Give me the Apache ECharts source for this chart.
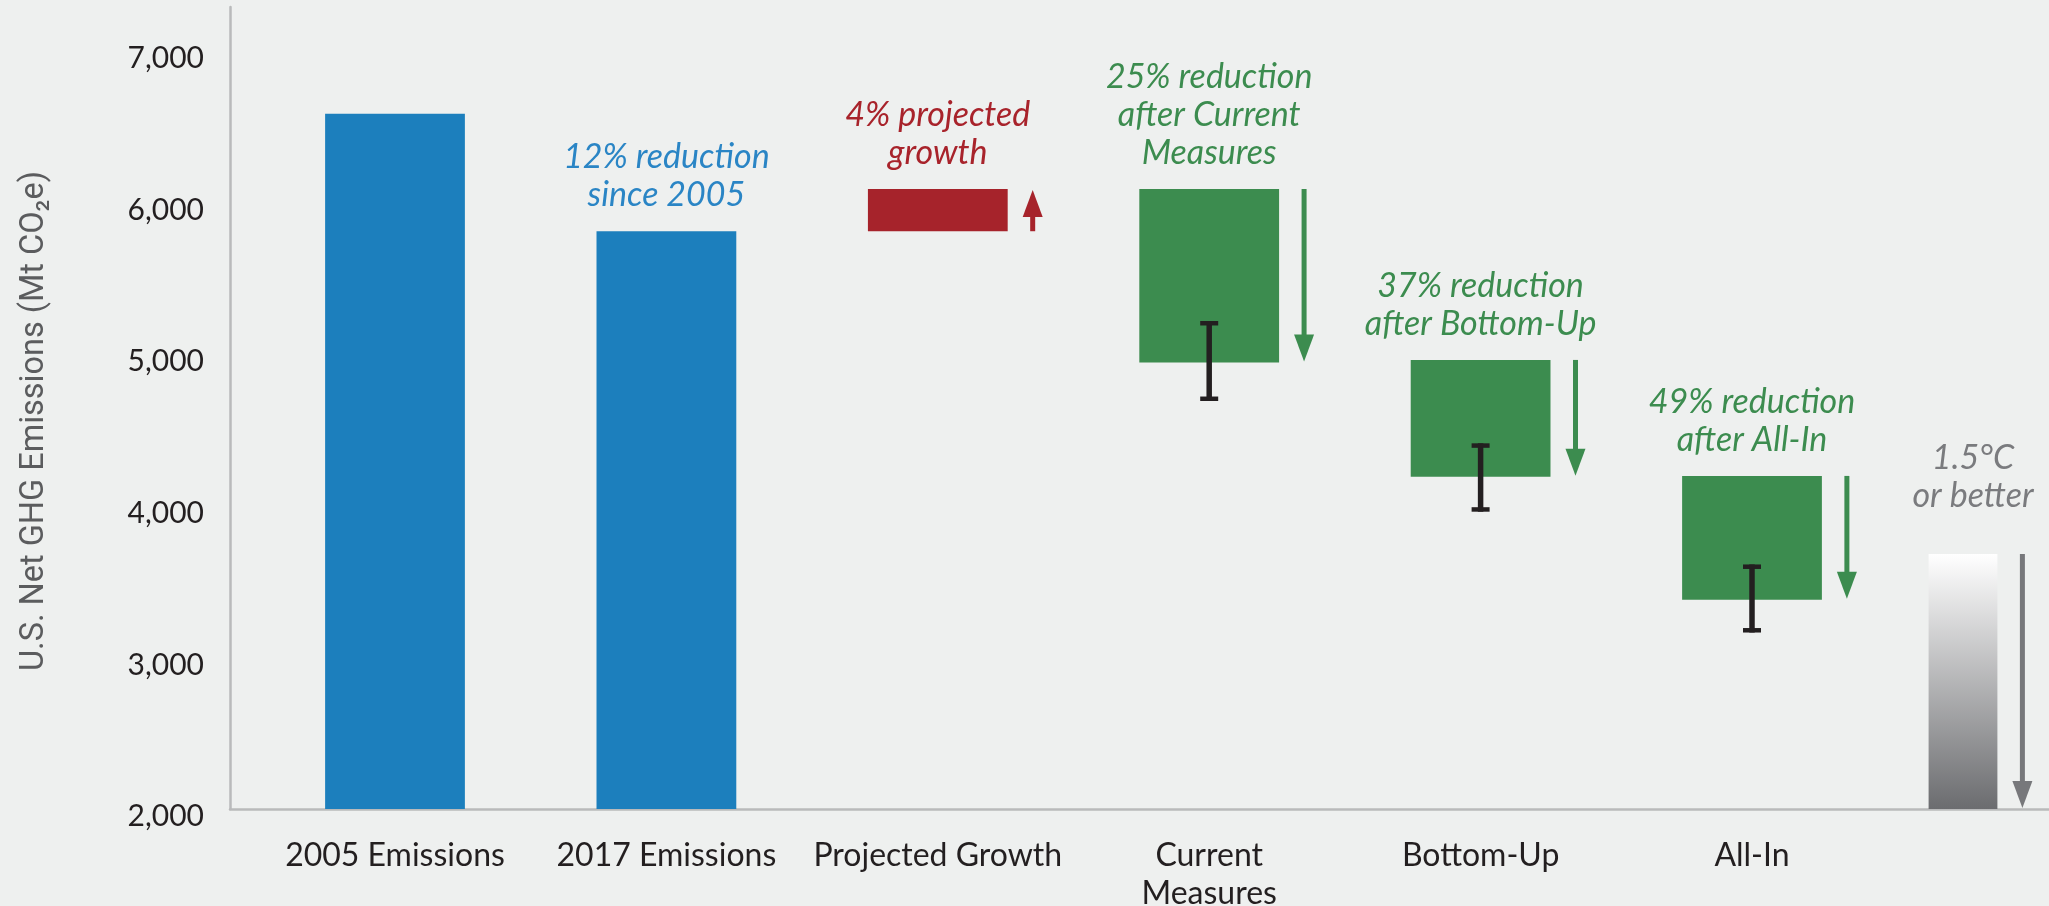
<!DOCTYPE html>
<html>
<head>
<meta charset="utf-8">
<script src="https://cdn.jsdelivr.net/npm/echarts@6/dist/echarts.min.js"></script>
<style>
html,body{margin:0;padding:0;background:#eef0ef;}
#chart{width:2049px;height:906px;}
</style>
</head>
<body>
<div id="chart"></div>
<script>
// ---- data ----
const categories = ['2005 Emissions', '2017 Emissions', 'Projected Growth', 'Current\nMeasures', 'Bottom-Up', 'All-In'];
const barLow   = [2000, 2000, 5811, 4945, 4192, 3380];
const barHigh  = [6586, 5811, 6090, 6090, 4962, 4197];
const errLow   = [null, null, null, 4691, 3961, 3164];
const errHigh  = [null, null, null, 5219, 4412, 3613];
const arrowDir = ['none', 'none', 'up', 'down', 'down', 'down'];
const notes    = ['', '12% reduction\nsince 2005', '4% projected\ngrowth', '25% reduction\nafter Current\nMeasures', '37% reduction\nafter Bottom-Up', '49% reduction\nafter All-In'];
// 1.5°C target column (no axis label)
const targetCategory = [''];
const targetLow  = [2000];
const targetHigh = [3682];
const targetNote = ['1.5°C\nor better'];
const yTicks   = [2000, 3000, 4000, 5000, 6000, 7000];
const yAxisName = 'U.S. Net GHG Emissions (Mt CO₂e)';

// ---- styles ----
const BLUE = '#1c7fbd', RED = '#a6232b', GREEN = '#3c8c4f', GRAY = '#77787b';
const targetFill = {type: 'linear', x: 0, y: 0, x2: 0, y2: 1,
  colorStops: [{offset: 0, color: '#ffffff'}, {offset: 1, color: '#6b6c6f'}]};
const fills = [BLUE, BLUE, RED, GREEN, GREEN, GREEN];
const noteColors = ['#2a85c5', '#2a85c5', '#a8232b', '#3c8c4f', '#3c8c4f', '#3c8c4f'];
const FONT = 'Lato, "Noto Sans", sans-serif';
const BAR_FRAC = 0.515, TARGET_FRAC = 0.40, ARROW_GAP = 25;
const Y_MIN = 2000, Y_MAX = 7290;
const HEAD_H = 27, HEAD_W = 20;

function arrow(children, dir, ax, yTop, yBot, color) {
  if (dir === 'up') {
    const tip = yTop + 1, hb = tip + HEAD_H;
    children.push({type: 'line', shape: {x1: ax, y1: yBot, x2: ax, y2: hb - 2}, style: {stroke: color, lineWidth: 5}});
    children.push({type: 'polygon', shape: {points: [[ax - HEAD_W / 2, hb], [ax, tip], [ax + HEAD_W / 2, hb]]}, style: {fill: color}});
  } else if (dir === 'down') {
    const tip = yBot - 1, hb = tip - HEAD_H;
    children.push({type: 'line', shape: {x1: ax, y1: yTop, x2: ax, y2: hb + 2}, style: {stroke: color, lineWidth: 5}});
    children.push({type: 'polygon', shape: {points: [[ax - HEAD_W / 2, hb], [ax, tip], [ax + HEAD_W / 2, hb]]}, style: {fill: color}});
  }
}

function noteText(text, x, y, color) {
  return {type: 'text', style: {
    text: text, x: x, y: y, align: 'center', verticalAlign: 'bottom',
    fontFamily: FONT, fontSize: 34, fontStyle: 'italic', lineHeight: 38, fill: color
  }};
}

function renderColumn(params, api) {
  const i = params.dataIndex;
  const band = api.size([1, 0])[0];
  const base = api.coord([api.value(0), api.value(1)]);
  const top = api.coord([api.value(0), api.value(2)]);
  const cx = base[0];
  const w = band * BAR_FRAC;
  const yTop = top[1], yBot = base[1];
  const children = [];
  children.push({type: 'rect', shape: {x: cx - w / 2, y: yTop, width: w, height: yBot - yTop},
    style: {fill: fills[i]}});
  arrow(children, arrowDir[i], cx + w / 2 + ARROW_GAP, yTop, yBot, fills[i]);
  if (errLow[i] != null) {
    const e1 = api.coord([api.value(0), errHigh[i]])[1];
    const e2 = api.coord([api.value(0), errLow[i]])[1];
    const ec = '#231f20';
    children.push({type: 'rect', shape: {x: cx - 2.75, y: e1, width: 5.5, height: e2 - e1}, style: {fill: ec}});
    children.push({type: 'rect', shape: {x: cx - 9, y: e1, width: 18, height: 4.5}, style: {fill: ec}});
    children.push({type: 'rect', shape: {x: cx - 9, y: e2 - 4.5, width: 18, height: 4.5}, style: {fill: ec}});
  }
  if (notes[i]) children.push(noteText(notes[i], cx, yTop - 17, noteColors[i]));
  return {type: 'group', children: children};
}

function renderTarget(params, api) {
  const i = params.dataIndex;
  const band = api.size([1, 0])[0];
  const base = api.coord([api.value(0), api.value(1)]);
  const top = api.coord([api.value(0), api.value(2)]);
  const cx = base[0];
  const w = band * TARGET_FRAC;
  const yTop = top[1], yBot = base[1];
  const children = [];
  children.push({type: 'rect', shape: {x: cx - w / 2, y: yTop, width: w, height: yBot - yTop}, style: {fill: targetFill}});
  arrow(children, 'down', cx + w / 2 + ARROW_GAP, yTop, yBot, GRAY);
  children.push(noteText(targetNote[i], cx + 10, yTop - 39, '#7a7b7e'));
  return {type: 'group', children: children};
}

const gridBase = {top: 7, bottom: 97, containLabel: false, outerBoundsMode: 'none'};
const chart = echarts.init(document.getElementById('chart'), null, {renderer: 'canvas'});
chart.setOption({
  backgroundColor: '#eef0ef',
  animation: false,
  grid: [
    Object.assign({left: 230, right: 0}, gridBase),
    Object.assign({left: 259.3, width: 1628.4}, gridBase),
    Object.assign({left: 1877, right: 0}, gridBase)
  ],
  xAxis: [
    {type: 'value', gridIndex: 0, min: 0, max: 1,
      axisLine: {show: true, onZero: false, lineStyle: {color: '#b9babb', width: 2.5}},
      axisTick: {show: false}, axisLabel: {show: false}, splitLine: {show: false}},
    {type: 'category', gridIndex: 1, data: categories,
      axisLine: {show: false}, axisTick: {show: false}, splitLine: {show: false},
      axisLabel: {interval: 0, margin: 28, fontFamily: FONT, fontSize: 32, lineHeight: 38, color: '#231f20'}},
    {type: 'category', gridIndex: 2, data: targetCategory,
      axisLine: {show: false}, axisTick: {show: false}, splitLine: {show: false}, axisLabel: {show: false}}
  ],
  yAxis: [
    {type: 'value', gridIndex: 0, min: Y_MIN, max: Y_MAX, interval: 1000,
      axisLine: {show: true, lineStyle: {color: '#b9babb', width: 2.5}},
      axisTick: {show: false}, splitLine: {show: false},
      axisLabel: {margin: 26, fontFamily: FONT, fontSize: 30, color: '#231f20',
        verticalAlign: 'top', lineHeight: 15,
        formatter: v => yTicks.includes(v) ? String(v).replace(/\B(?=(\d{3})+(?!\d))/g, ',') : ''},
      name: yAxisName, nameLocation: 'middle', nameRotate: 90, nameGap: 179,
      nameTextStyle: {fontFamily: 'Roboto, "Noto Sans", sans-serif', fontSize: 32.5, color: '#5b5c5e',
        padding: [0, 26, 0, 0]}},
    {type: 'value', gridIndex: 1, min: Y_MIN, max: Y_MAX, show: false},
    {type: 'value', gridIndex: 2, min: Y_MIN, max: Y_MAX, show: false}
  ],
  series: [{
    type: 'custom', xAxisIndex: 1, yAxisIndex: 1,
    renderItem: renderColumn,
    encode: {x: 0, y: [1, 2]},
    data: categories.map((c, i) => [i, barLow[i], barHigh[i]])
  }, {
    type: 'custom', xAxisIndex: 2, yAxisIndex: 2,
    renderItem: renderTarget,
    encode: {x: 0, y: [1, 2]},
    data: targetCategory.map((c, i) => [i, targetLow[i], targetHigh[i]])
  }]
});
</script>
</body>
</html>
